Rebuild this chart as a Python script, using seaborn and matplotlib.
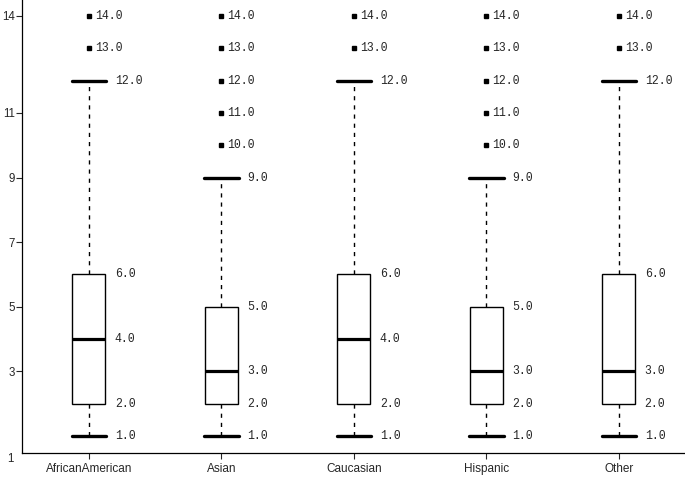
import pandas as pd
import matplotlib
matplotlib.use("Agg")
import matplotlib.pyplot as plt
import seaborn as sns
from matplotlib.cbook import boxplot_stats

# raw values per group, read so that quartiles / whiskers / outliers match the picture
groups = ["AfricanAmerican", "Asian", "Caucasian", "Hispanic", "Other"]
african_american = [1, 1, 2, 2, 3, 4, 4, 5, 6, 6, 12, 13, 14]
asian = [1, 1, 1, 2, 2, 2, 2, 2, 3, 3, 3, 3, 3, 4, 4, 4, 5, 5, 5, 9, 10, 11, 12, 13, 14]
caucasian = [1, 1, 2, 2, 3, 4, 4, 5, 6, 6, 12, 13, 14]
hispanic = [1, 1, 1, 2, 2, 2, 2, 2, 3, 3, 3, 3, 3, 4, 4, 4, 5, 5, 5, 9, 10, 11, 12, 13, 14]
other = [1, 1, 2, 2, 2, 3, 3, 4, 5, 6, 12, 13, 14]
y_ticks = [3, 5, 7, 9, 11, 14]

values = [african_american, asian, caucasian, hispanic, other]
df = pd.DataFrame({
    "group": [g for g, v in zip(groups, values) for _ in v],
    "value": [x for v in values for x in v],
})

sns.set_style("white")
plt.rcParams["font.family"] = ["Liberation Sans", "DejaVu Sans"]

fig = plt.figure(figsize=(6.85, 4.79), dpi=100)
ax = fig.add_axes([22 / 685, 1 - 453 / 479, 663 / 685, 453 / 479])

box_w = 0.25
sns.boxplot(
    data=df, x="group", y="value", order=groups, ax=ax,
    width=box_w, color="white", linecolor="black", linewidth=1.0,
    whis=1.5, saturation=1,
    whiskerprops={"linestyle": (0, (3, 3.6)), "linewidth": 1.0},
    capprops={"linewidth": 2.4},
    medianprops={"linewidth": 2.3, "color": "black"},
    flierprops={"marker": "s", "markersize": 3.2, "markerfacecolor": "black",
                "markeredgecolor": "black"},
)

# caps as wide as the box
for ln in ax.lines:
    if abs(ln.get_linewidth() - 2.4) < 1e-6:
        xd = ln.get_xdata()
        c = (xd[0] + xd[1]) / 2
        ln.set_xdata([c - 0.13, c + 0.13])

# value labels
mono = {"family": "Liberation Mono", "size": 8.3}
for i, v in enumerate(values):
    st = boxplot_stats(v, whis=1.5)[0]
    for key in ["whislo", "q1", "med", "q3", "whishi"]:
        ax.text(i + 0.196, st[key], f"{st[key]:.1f}", ha="left", va="center", fontdict=mono)
    for f in st["fliers"]:
        ax.text(i + 0.045, f, f"{f:.1f}", ha="left", va="center", fontdict=mono)

ax.set_xlim(-0.505, 4.5)
ax.set_ylim(0.474, 14.495)
ax.set_yticks(y_ticks)
ax.set_yticklabels([str(t) for t in y_ticks])
ax.set_xlabel("")
ax.set_ylabel("")

for s in ["top", "right"]:
    ax.spines[s].set_visible(False)
for s in ["left", "bottom"]:
    ax.spines[s].set_color("black")
    ax.spines[s].set_linewidth(0.9)

ax.tick_params(axis="y", direction="out", length=4, width=0.8, pad=1, labelsize=8.3, left=True)
ax.tick_params(axis="x", direction="out", length=4, width=0.8, pad=3, labelsize=8.5, bottom=True)
fig.text(10 / 685, 1 - 459 / 479, "1", ha="center", va="center", fontsize=8.3)

fig.savefig("out.png", dpi=100)
